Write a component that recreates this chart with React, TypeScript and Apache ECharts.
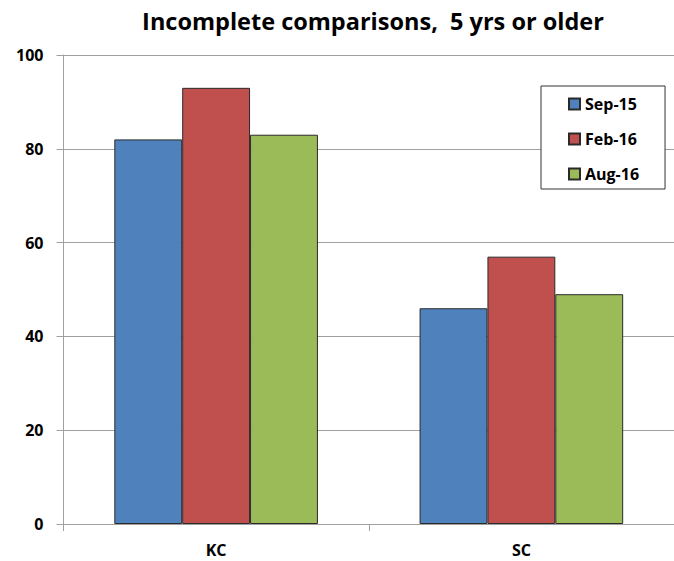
import React, { useEffect, useRef } from "react";
import * as echarts from "echarts";

const categories = ["KC", "SC"];
const seriesNames = ["Sep-15", "Feb-16", "Aug-16"];
const sep15 = [82, 46];
const feb16 = [93, 57];
const aug16 = [83, 49];
const colors = ["#4F81BD", "#C0504D", "#9BBB59"];
const FONT = "'Open Sans', 'Noto Sans', sans-serif";

export default function App() {
  const ref = useRef<HTMLDivElement>(null);
  useEffect(() => {
    document.body.style.margin = "0";
    const chart = echarts.init(ref.current!, null, { renderer: "svg" });
    const values = [sep15, feb16, aug16];
    chart.setOption({
      animation: false,
      backgroundColor: "#ffffff",
      title: {
        text: "Incomplete comparisons,  5 yrs or older",
        left: 368,
        textAlign: "center",
        top: 4,
        textStyle: { fontFamily: FONT, fontWeight: "bold", fontSize: 23.5, color: "#000" },
      },
      legend: {
        orient: "vertical",
        left: 541,
        top: 86,
        padding: [10, 26, 7, 27],
        itemWidth: 11,
        itemHeight: 11,
        itemGap: 19,
        borderColor: "#333",
        borderWidth: 1,
        backgroundColor: "#fff",
        icon: "rect",
        data: seriesNames,
        textStyle: { fontFamily: FONT, fontWeight: "bold", fontSize: 16, color: "#000" },
      },
      grid: { left: 63.5, top: 55, bottom: 37, right: -11, containLabel: false },
      xAxis: {
        type: "category",
        data: categories,
        axisLine: { lineStyle: { color: "#A0A0A0", width: 1 } },
        axisTick: { show: true, length: 7, lineStyle: { color: "#A0A0A0" } },
        axisLabel: { fontFamily: FONT, fontWeight: "bold", fontSize: 16, color: "#000", margin: 18 },
      },
      yAxis: {
        type: "value",
        min: 0,
        max: 100,
        interval: 20,
        axisLine: { show: true, lineStyle: { color: "#A0A0A0" } },
        axisTick: { show: true, length: 7, inside: false, lineStyle: { color: "#A0A0A0" } },
        splitLine: { lineStyle: { color: "#A0A0A0", width: 1 } },
        axisLabel: { fontFamily: FONT, fontWeight: "bold", fontSize: 16, color: "#000", margin: 20 },
      },
      series: seriesNames.map((name, i) => ({
        name,
        type: "bar",
        data: values[i],
        barGap: "0%",
        barCategoryGap: "33.3%",
        itemStyle: { color: colors[i], borderColor: "#2a2a2a", borderWidth: 1 },
      })),
    });
    return () => chart.dispose();
  }, []);
  return <div ref={ref} style={{ width: 674, height: 561 }} />;
}
